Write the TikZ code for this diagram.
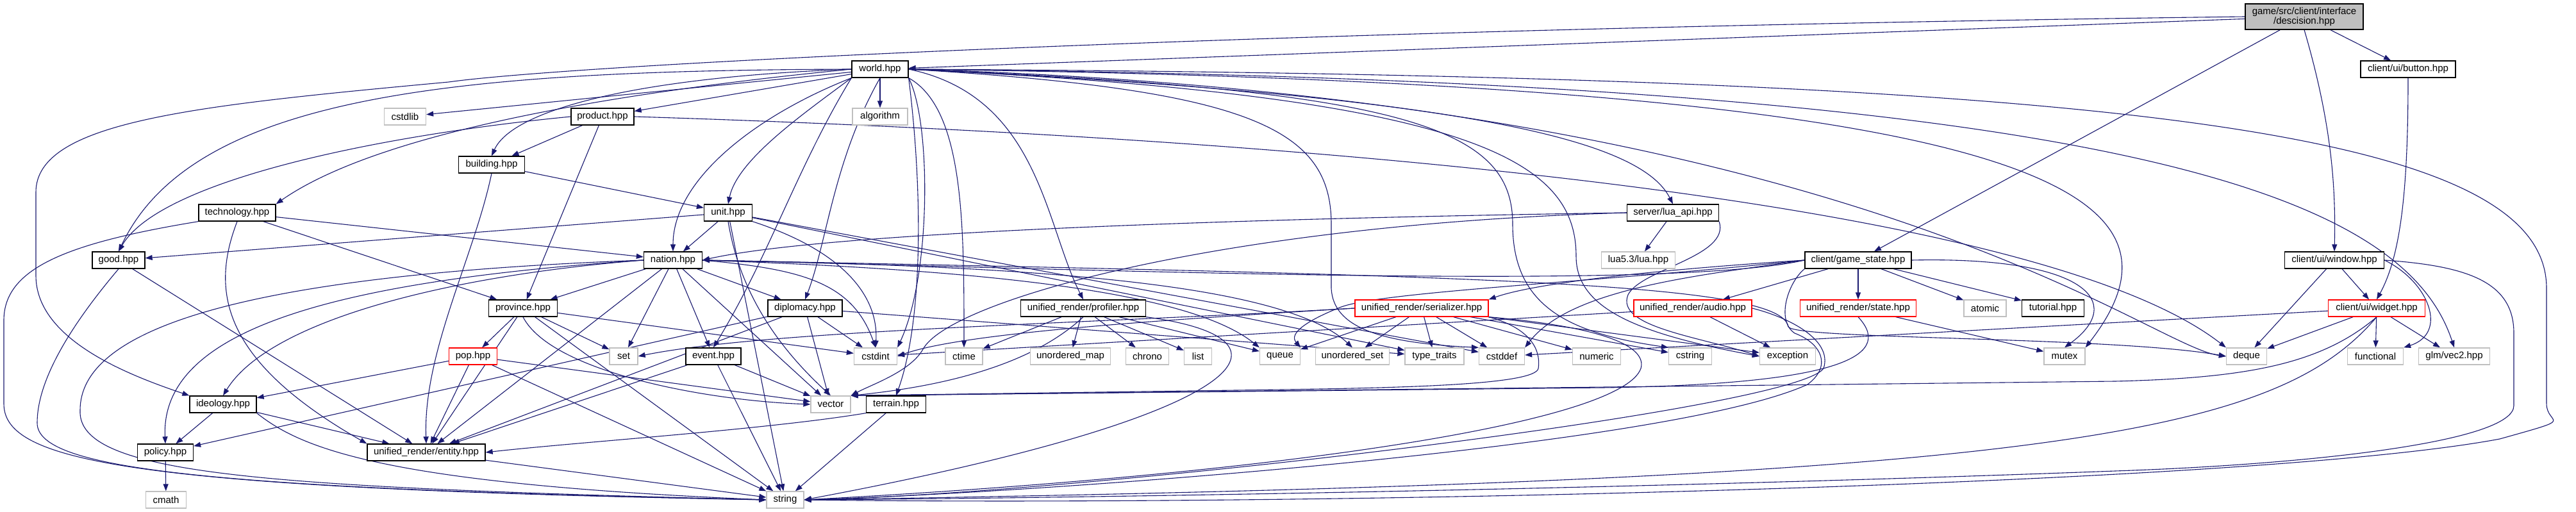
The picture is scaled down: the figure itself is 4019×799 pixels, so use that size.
\documentclass[tikz,border=0pt]{standalone}
\usepackage{fontspec}
\setmainfont{Liberation Sans}
\usetikzlibrary{arrows.meta}
\definecolor{edgec}{HTML}{191970}
\definecolor{extc}{HTML}{BFBFBF}
\definecolor{rootc}{HTML}{BFBFBF}
\pgfdeclarelayer{bg}
\pgfsetlayers{bg,main}
\begin{document}
\begin{tikzpicture}[x=1pt,y=-1pt,
 file/.style={draw=black,line width=1.3pt,fill=white,minimum height=26pt,inner sep=0pt,font=\fontsize{15}{18}\selectfont},
 ext/.style={file,draw=extc},
 trunc/.style={file,draw=red},
 root/.style={file,fill=rootc,minimum height=40pt,align=center,font=\fontsize{15}{15}\selectfont},
 edge/.style={draw=edgec,line width=1.1pt,-{Triangle[length=11pt,width=8pt]}}]
\begin{pgfonlayer}{bg}
\fill[white] (0,0) rectangle (4019,799);
\end{pgfonlayer}
\useasboundingbox (0,0) rectangle (4019,799);

% ---- nodes ----
\node[root,minimum width=184pt] (dec) at (3595,26) {game/src/client/interface\\/descision.hpp};
\node[file,minimum width=88pt] (world) at (1373,108) {world.hpp};
\node[file,minimum width=148pt] (button) at (3757,108) {client/ui/button.hpp};
\node[ext,minimum width=65pt] (cstdlib) at (632,182) {cstdlib};
\node[file,minimum width=98pt] (product) at (940,182) {product.hpp};
\node[ext,minimum width=86pt] (algorithm) at (1373,182) {algorithm};
\node[file,minimum width=103pt] (building) at (767,257) {building.hpp};
\node[file,minimum width=120pt] (technology) at (370,332) {technology.hpp};
\node[file,minimum width=75pt] (unit) at (1136,332) {unit.hpp};
\node[file,minimum width=143pt] (luaapi) at (2610,332) {server/lua\_api.hpp};
\node[file,minimum width=82pt] (good) at (185,406) {good.hpp};
\node[file,minimum width=91pt] (nation) at (1050,406) {nation.hpp};
\node[ext,minimum width=115pt] (lua) at (2556,406) {lua5.3/lua.hpp};
\node[file,minimum width=166pt] (gamestate) at (2899,406) {client/game\_state.hpp};
\node[file,minimum width=155pt] (window) at (3642,406) {client/ui/window.hpp};
\node[file,minimum width=107pt] (province) at (816,481) {province.hpp};
\node[file,minimum width=116pt] (diplomacy) at (1256,481) {diplomacy.hpp};
\node[file,minimum width=195pt] (profiler) at (1690,481) {unified\_render/profiler.hpp};
\node[trunc,minimum width=208pt] (serializer) at (2218,481) {unified\_render/serializer.hpp};
\node[trunc,minimum width=184pt] (audio) at (2641,481) {unified\_render/audio.hpp};
\node[trunc,minimum width=181pt] (state) at (2899,481) {unified\_render/state.hpp};
\node[ext,minimum width=66pt] (atomic) at (3097,481) {atomic};
\node[file,minimum width=97pt] (tutorial) at (3203,481) {tutorial.hpp};
\node[trunc,minimum width=151pt] (widget) at (3708,481) {client/ui/widget.hpp};
\node[trunc,minimum width=75pt] (pop) at (738,556) {pop.hpp};
\node[ext,minimum width=44pt] (set) at (973,556) {set};
\node[file,minimum width=86pt] (event) at (1113,556) {event.hpp};
\node[ext,minimum width=67pt] (cstdint) at (1366,556) {cstdint};
\node[ext,minimum width=58pt] (ctime) at (1504,556) {ctime};
\node[ext,minimum width=125pt] (umap) at (1670,556) {unordered\_map};
\node[ext,minimum width=67pt] (chrono) at (1790,556) {chrono};
\node[ext,minimum width=43pt] (list) at (1869,556) {list};
\node[ext,minimum width=63pt] (queue) at (1997,556) {queue};
\node[ext,minimum width=115pt] (uset) at (2110,556) {unordered\_set};
\node[ext,minimum width=92pt] (typetraits) at (2238,556) {type\_traits};
\node[ext,minimum width=71pt] (cstddef) at (2343,556) {cstddef};
\node[ext,minimum width=75pt] (numeric) at (2491,556) {numeric};
\node[ext,minimum width=67pt] (cstring) at (2637,556) {cstring};
\node[ext,minimum width=87pt] (exception) at (2789,556) {exception};
\node[ext,minimum width=64pt] (mutex) at (3221,556) {mutex};
\node[ext,minimum width=63pt] (deque) at (3505,556) {deque};
\node[ext,minimum width=87pt] (functional) at (3706,556) {functional};
\node[ext,minimum width=111pt] (glm) at (3829,556) {glm/vec2.hpp};
\node[file,minimum width=104pt] (ideology) at (348,631) {ideology.hpp};
\node[ext,minimum width=62pt] (vector) at (1296,631) {vector};
\node[file,minimum width=93pt] (terrain) at (1398,631) {terrain.hpp};
\node[file,minimum width=87pt] (policy) at (258,706) {policy.hpp};
\node[file,minimum width=184pt] (entity) at (665,706) {unified\_render/entity.hpp};
\node[ext,minimum width=63pt] (cmath) at (259,780) {cmath};
\node[ext,minimum width=58pt] (string) at (1225,780) {string};

\begin{pgfonlayer}{bg}
% ---- decision ----
\draw[edge] (dec) -- (world);
\draw[edge] (dec.west) .. controls (2000,45) and (900,100) .. (700,128) .. controls (300,165) and (56,190) .. (56,300) -- (56,430) .. controls (56,530) and (200,585) .. (ideology.north west);
\draw[edge] (dec) -- (gamestate);
\draw[edge] (dec.south) .. controls (3640,200) and (3644,300) .. (window.north);
\draw[edge] (dec) -- (button);

% ---- world ----
\draw[edge] (world) -- (algorithm);
\draw[edge] (world) -- (cstdlib);
\draw[edge] (world) -- (product);
\draw[edge] (world.west) .. controls (1000,120) and (800,170) .. (building.north);
\draw[edge] (world.west) .. controls (1000,140) and (600,200) .. (technology.north east);
\draw[edge] (world.west) .. controls (700,110) and (300,150) .. (good.north);
\draw[edge] (world.south west) .. controls (1180,180) and (1050,280) .. (nation.north);
\draw[edge] (world.south west) .. controls (1250,180) and (1150,250) .. (unit.north);
\draw[edge] (world.east) .. controls (2300,150) and (2560,220) .. (luaapi.north);
\draw[edge] (world.south east) .. controls (1453,190) and (1453,430) .. (cstdint.north east);
\draw[edge] (world.south east) .. controls (1504,170) and (1504,350) .. (ctime.north);
\draw[edge] (world.east) .. controls (1621,150) and (1630,350) .. (profiler.north);
\draw[edge] (world.south west) .. controls (1244,260) and (1200,400) .. (event.north);
\draw[edge] (world.south) .. controls (1300,250) and (1290,380) .. (diplomacy.north);
\draw[edge] (world.east) .. controls (1950,140) and (2077,200) .. (2077,350) -- (2077,450) .. controls (2080,510) and (2150,535) .. (cstddef.north west);
\draw[edge] (world.east) .. controls (2200,140) and (2360,200) .. (2360,350) .. controls (2360,480) and (2450,520) .. (cstring.north west);
\draw[edge] (world.east) .. controls (2300,150) and (2459,250) .. (2459,400) .. controls (2459,480) and (2550,520) .. (exception.west);
\draw[edge] (world.east) .. controls (2900,150) and (3350,540) .. (deque.west);
\draw[edge] (world.east) .. controls (3300,125) and (3749,300) .. (glm.north);
\draw[edge] (world.east) .. controls (3200,130) and (3442,300) .. (mutex.north east);
\draw[edge] (world.south east) .. controls (1440,300) and (1440,500) .. (terrain.north);
\draw[edge] (world.east) .. controls (3300,118) and (3973,200) .. (3973,450) -- (3973,630) .. controls (3973,665) and (4025,650) .. (3900,685) .. controls (3500,760) and (2000,790) .. (string.east);

% ---- product ----
\draw[edge] (product) -- (building);
\draw[edge] (product.west) .. controls (600,210) and (250,280) .. (good.north);
\draw[edge] (product) -- (province);
\draw[edge] (product.east) .. controls (2200,220) and (3200,330) .. (deque.north west);

% ---- building ----
\draw[edge] (building) -- (unit);
\draw[edge] (building.south) .. controls (740,400) and (660,550) .. (entity.north);

% ---- technology ----
\draw[edge] (technology) -- (nation);
\draw[edge] (technology) -- (province);
\draw[edge] (technology.south west) .. controls (100,380) and (6,420) .. (6,500) -- (6,630) .. controls (6,720) and (200,762) .. (string.west);
\draw[edge] (technology.south) .. controls (330,450) and (340,560) .. (entity.north west);

% ---- unit ----
\draw[edge] (unit) -- (nation);
\draw[edge] (unit) -- (good);
\draw[edge] (unit.south) .. controls (1150,430) and (1190,520) .. (vector.north);
\draw[edge] (unit.south east) .. controls (1340,400) and (1370,480) .. (cstdint.north);
\draw[edge] (unit) -- (string);
\draw[edge] (unit) -- (cstddef);
\draw[edge] (unit) -- (typetraits);

% ---- nation ----
\draw[edge] (nation) -- (province);
\draw[edge] (nation) -- (diplomacy);
\draw[edge] (nation) -- (event);
\draw[edge] (nation) -- (set);
\draw[edge] (nation) -- (vector);
\draw[edge] (nation.east) .. controls (1250,420) and (1330,440) .. (cstdint.north);
\draw[edge] (nation.west) .. controls (700,430) and (420,500) .. (ideology.north);
\draw[edge] (nation.west) .. controls (500,440) and (250,520) .. (policy.north);
\draw[edge] (nation) -- (entity);
\draw[edge] (nation.west) .. controls (350,430) and (125,520) .. (125,640) .. controls (120,740) and (400,760) .. (string.west);
\draw[edge] (nation.east) .. controls (1500,420) and (1850,450) .. (queue.north west);
\draw[edge] (nation.east) .. controls (1600,415) and (2000,440) .. (uset.north);
\draw[edge] (nation.east) .. controls (2300,430) and (2780,440) .. (2790,510) .. controls (2800,530) and (3300,525) .. (deque.west);

% ---- province ----
\draw[edge] (province) -- (pop);
\draw[edge] (province) -- (set);
\draw[edge] (province.south) .. controls (860,580) and (1100,625) .. (vector.west);
\draw[edge] (province) -- (string);
\draw[edge] (province) -- (entity);
\draw[edge] (province) -- (cstdint);

% ---- pop ----
\draw[edge] (pop) -- (ideology);
\draw[edge] (pop) -- (vector);
\draw[edge] (pop) -- (entity);
\draw[edge] (pop) -- (string);

% ---- diplomacy ----
\draw[edge] (diplomacy) -- (cstdint);
\draw[edge] (diplomacy) -- (vector);
\draw[edge] (diplomacy) -- (entity);
\draw[edge] (diplomacy) -- (policy);
\draw[edge] (diplomacy) -- (typetraits);

% ---- event ----
\draw[edge] (event) -- (vector);
\draw[edge] (event) -- (entity);
\draw[edge] (event) -- (string);

% ---- ideology / policy / good / entity / terrain ----
\draw[edge] (ideology) -- (policy);
\draw[edge] (ideology) -- (entity);
\draw[edge] (ideology.south east) .. controls (470,700) and (600,755) .. (string.west);
\draw[edge] (policy) -- (cmath);
\draw[edge] (good) -- (entity);
\draw[edge] (good.south) .. controls (100,520) and (58,600) .. (58,660) .. controls (58,730) and (300,762) .. (string.west);
\draw[edge] (entity) -- (string);
\draw[edge] (terrain.south west) .. controls (1200,670) and (900,690) .. (entity.east);
\draw[edge] (terrain) -- (string);

% ---- profiler ----
\draw[edge] (profiler) -- (ctime);
\draw[edge] (profiler) -- (umap);
\draw[edge] (profiler) -- (chrono);
\draw[edge] (profiler) -- (list);
\draw[edge] (profiler) -- (queue);
\draw[edge] (profiler.south) .. controls (1620,560) and (1500,600) .. (vector.north east);
\draw[edge] (profiler.south east) .. controls (2050,530) and (1950,650) .. (string.east);

% ---- serializer ----
\draw[edge] (serializer.west) .. controls (1700,505) and (1200,515) .. (set.east);
\draw[edge] (serializer.west) .. controls (1800,500) and (1500,520) .. (cstdint.east);
\draw[edge] (serializer) -- (queue);
\draw[edge] (serializer) -- (uset);
\draw[edge] (serializer) -- (typetraits);
\draw[edge] (serializer) -- (cstddef);
\draw[edge] (serializer) -- (numeric);
\draw[edge] (serializer) -- (cstring);
\draw[edge] (serializer) -- (exception);
\draw[edge] (serializer.south east) .. controls (2380,510) and (2405,540) .. (2400,575) .. controls (2395,600) and (2200,605) .. (2000,608) -- (vector.north east);
\draw[edge] (serializer.south east) .. controls (2500,510) and (2570,540) .. (2560,575) .. controls (2530,660) and (2000,740) .. (string.east);

% ---- lua api ----
\draw[edge] (luaapi) -- (lua);
\draw[edge] (luaapi.west) .. controls (2000,340) and (1300,360) .. (nation.east);
\draw[edge] (luaapi.west) .. controls (1900,350) and (1480,470) .. (1440,545) .. controls (1420,580) and (1360,600) .. (vector.north east);
\draw[edge] (luaapi.south east) .. controls (2700,400) and (2560,420) .. (2540,460) .. controls (2520,510) and (2650,525) .. (exception.west);

% ---- game state ----
\draw[edge] (gamestate.west) .. controls (2600,420) and (2400,440) .. (serializer.north east);
\draw[edge] (gamestate) -- (audio);
\draw[edge] (gamestate) -- (state);
\draw[edge] (gamestate) -- (atomic);
\draw[edge] (gamestate) -- (tutorial);
\draw[edge] (gamestate.east) .. controls (3250,400) and (3320,470) .. (mutex.north);
\draw[edge] (gamestate.west) .. controls (2500,440) and (2150,455) .. (2090,480) .. controls (2040,500) and (2010,520) .. (queue.north east);
\draw[edge] (gamestate.west) .. controls (2650,430) and (2450,450) .. (cstddef.north east);
\draw[edge] (gamestate.west) .. controls (2600,455) and (1700,420) .. (nation.east);
\draw[edge] (gamestate.south west) .. controls (2790,440) and (2770,500) .. (2800,520) .. controls (2840,535) and (2860,570) .. (2820,600) .. controls (2600,700) and (1600,770) .. (string.east);

% ---- audio / state ----
\draw[edge] (audio) -- (exception);
\draw[edge] (audio) -- (cstdint);
\draw[edge] (audio.east) .. controls (2790,495) and (2860,530) .. (2845,575) .. controls (2800,640) and (1700,770) .. (string.east);
\draw[edge] (state) -- (mutex);
\draw[edge] (state.south) .. controls (2960,560) and (2850,600) .. (2500,605) -- (vector.north east);

% ---- window / widget / button ----
\draw[edge] (window) -- (widget);
\draw[edge] (window) -- (deque);
\draw[edge] (window.east) .. controls (3790,440) and (3820,520) .. (functional.north east);
\draw[edge] (window.east) .. controls (3850,415) and (3922,440) .. (3922,520) -- (3922,633) .. controls (3922,690) and (3600,725) .. (3300,735) .. controls (2500,765) and (1600,778) .. (string.east);
\draw[edge] (widget) -- (deque);
\draw[edge] (widget) -- (functional);
\draw[edge] (widget) -- (glm);
\draw[edge] (widget) -- (cstddef);
\draw[edge] (widget.south) .. controls (3620,570) and (3500,590) .. (3300,595) -- (vector.north east);
\draw[edge] (widget.south) .. controls (3550,680) and (3200,750) .. (string.east);
\draw[edge] (button.south) .. controls (3757,300) and (3745,400) .. (widget.north);
\end{pgfonlayer}
\end{tikzpicture}
\end{document}
